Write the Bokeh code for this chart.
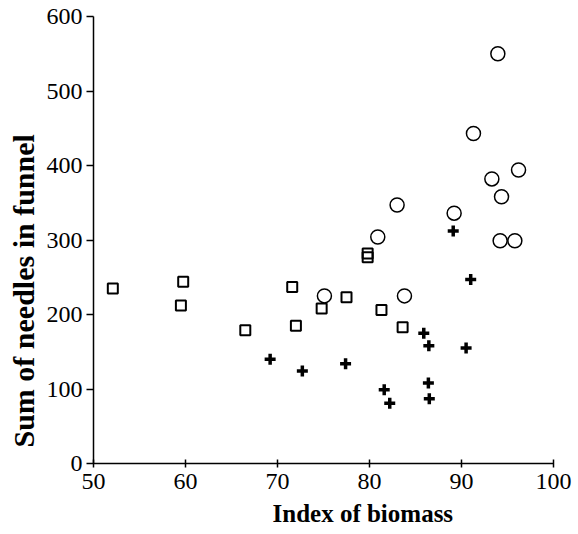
from bokeh.plotting import figure
from bokeh.models import Range1d, FixedTicker, Title
from bokeh.embed import file_html
from bokeh.resources import INLINE

# Series
square_x = [52.1, 59.75, 59.5, 66.5, 71.6, 72.0, 74.8, 77.5, 79.8, 79.8, 81.3, 83.6]
square_y = [235, 244, 212, 179, 237, 185, 208, 223, 282, 277, 206, 183]

circle_x = [93.95, 91.3, 96.2, 93.3, 94.35, 83.0, 89.2, 80.9, 94.2, 95.8, 75.1, 83.8]
circle_y = [550, 443, 394, 382, 358, 347, 336, 304, 299, 299, 225, 225]

cross_x = [89.1, 91.0, 85.9, 86.45, 90.5, 69.2, 72.7, 77.4, 81.6, 82.2, 86.4, 86.5]
cross_y = [312, 247, 175, 158, 155, 140, 124, 134, 99, 81, 108, 87]

x_ticks = [50, 60, 70, 80, 90, 100]
y_ticks = [0, 100, 200, 300, 400, 500, 600]
x_title = "Index of biomass"
y_title = "Sum of needles in funnel"

FONT = "Liberation Serif"

p = figure(width=578, height=534, output_backend="svg", toolbar_location=None,
           x_range=Range1d(50, 100), y_range=Range1d(0, 600),
           min_border_left=93, min_border_right=25, min_border_top=16, min_border_bottom=71)
p.outline_line_color = None
p.xgrid.visible = False
p.ygrid.visible = False
p.background_fill_color = "white"
p.border_fill_color = "white"

p.xaxis.ticker = FixedTicker(ticks=x_ticks)
p.yaxis.ticker = FixedTicker(ticks=y_ticks)
for ax in (p.xaxis[0], p.yaxis[0]):
    ax.axis_line_width = 1.5
    ax.axis_line_color = "black"
    ax.major_tick_line_width = 1.5
    ax.major_tick_line_color = "black"
    ax.minor_tick_line_color = None
    ax.major_label_text_font = FONT
    ax.major_label_text_font_size = "24px"
    ax.major_label_text_color = "black"
p.xaxis.major_tick_in = 4
p.xaxis.major_tick_out = 4
p.xaxis.major_label_standoff = 6
p.yaxis.major_tick_in = 0
p.yaxis.major_tick_out = 7
p.yaxis.major_label_standoff = 4

p.scatter(square_x, square_y, marker="square", size=10, fill_color=None,
          line_color="black", line_width=2)
p.scatter(circle_x, circle_y, marker="circle", size=14, fill_color=None,
          line_color="black", line_width=1.5)
p.scatter(cross_x, cross_y, marker="cross", size=11, fill_color=None,
          line_color="black", line_width=3.5)

p.add_layout(Title(text=x_title, text_font=FONT, text_font_style="bold",
                   text_font_size="25px", align="left", offset=179, standoff=13,
                   text_color="black"), "below")
p.add_layout(Title(text=y_title, text_font=FONT, text_font_style="bold",
                   text_font_size="30px", align="left", offset=16, standoff=7,
                   text_color="black"), "left")

open("out.html", "w").write(file_html(p, INLINE))
